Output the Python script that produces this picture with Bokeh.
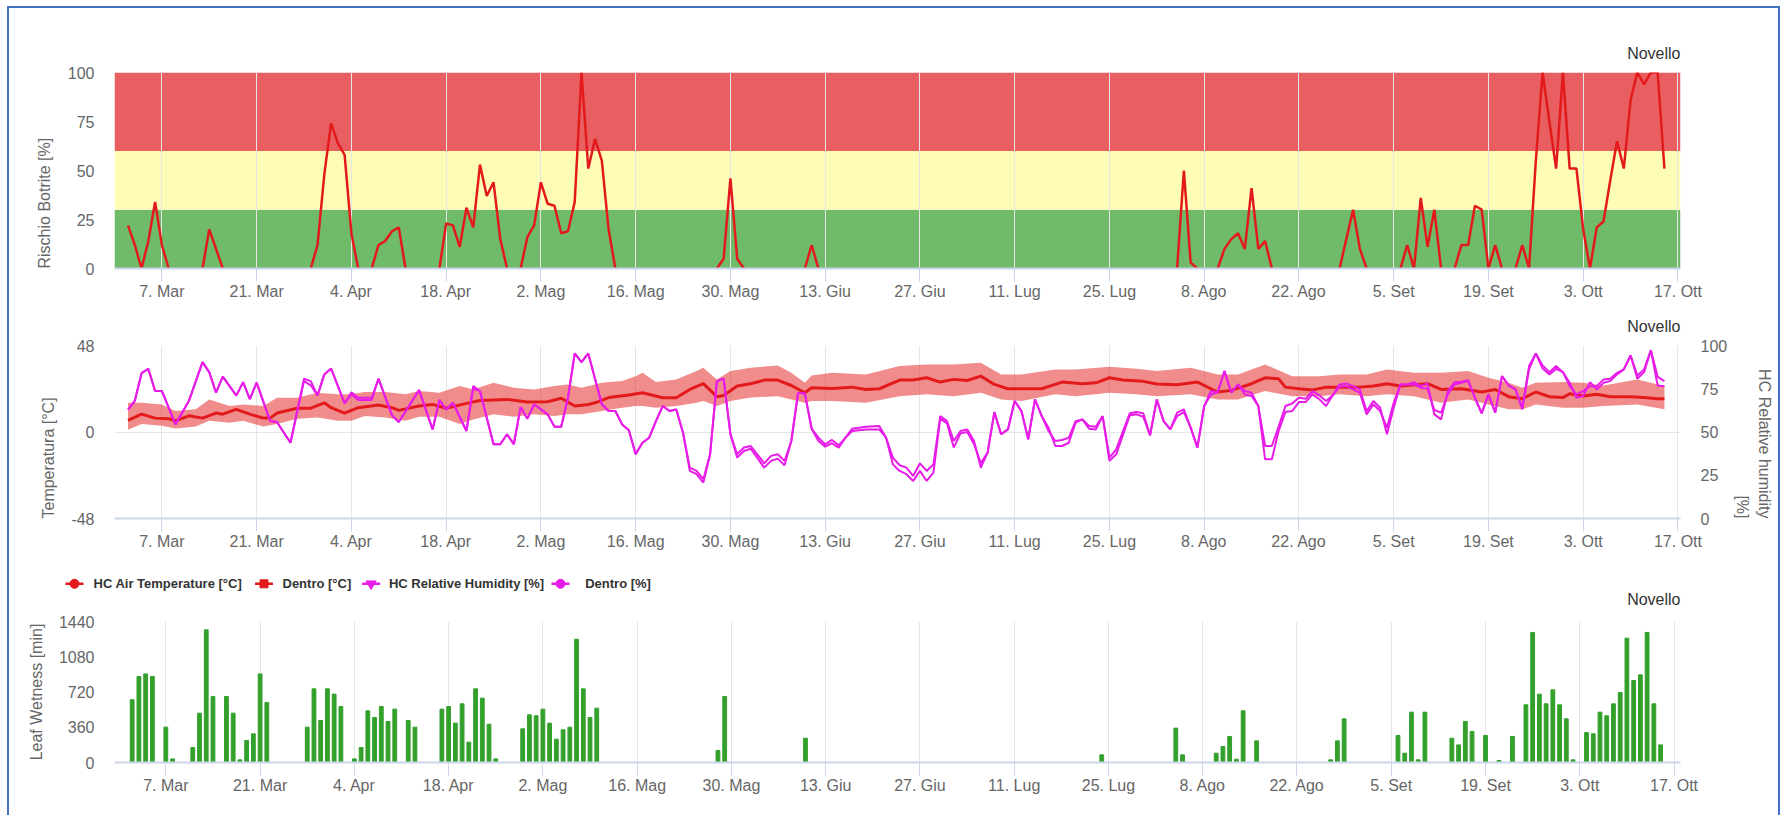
import numpy as np
import pandas as pd
from bokeh.plotting import figure
from bokeh.models import Range1d, LinearAxis, FixedTicker, BoxAnnotation, Title
from bokeh.core.properties import value
from bokeh.layouts import column
from bokeh.embed import file_html
from bokeh.resources import INLINE

YEAR = "2022"

# ---------------- shared x axis ----------------
tick_dates = ["03-07", "03-21", "04-04", "04-18", "05-02", "05-16", "05-30", "06-13",
              "06-27", "07-11", "07-25", "08-08", "08-22", "09-05", "09-19", "10-03", "10-17"]
tick_labels = ["7. Mar", "21. Mar", "4. Apr", "18. Apr", "2. Mag", "16. Mag", "30. Mag", "13. Giu",
               "27. Giu", "11. Lug", "25. Lug", "8. Ago", "22. Ago", "5. Set", "19. Set", "3. Ott", "17. Ott"]

# ---------------- chart 1: Rischio Botrite (daily, None = no risk) ----------------
risk_start = "2022-03-02"
risk_values = [
    22, 12, 0, 14, 34, 12, 0,
    None, None, None, None,
    0, 20, 10, 0,
    None, None, None, None, None, None, None, None, None, None, None, None,
    0, 12, 48, 74, 64, 58, 18, 0,
    None,
    0, 12, 14, 19, 21, 0,
    None, None, None, None,
    0, 23, 22, 11, 31, 21, 53, 37, 44, 15, 0,
    None,
    0, 16, 22, 44, 33, 32, 18, 19, 34, 100, 51, 66, 55, 20, 0,
    None, None, None, None, None, None, None, None, None, None, None, None, None, None,
    0, 5, 46, 5, 0,
    None, None, None, None, None, None, None, None,
    0, 12, 0,
    None, None, None, None, None, None, None, None, None, None, None, None, None,
    None, None, None, None, None, None, None, None, None, None, None, None, None,
    None, None, None, None, None, None, None, None, None, None, None, None, None,
    None, None, None, None, None, None, None, None, None, None, None, None, None,
    0, 50, 3, 0,
    None, None,
    0, 10, 15, 18, 10, 41, 10, 14, 0,
    None, None, None, None, None, None, None, None, None,
    0, 15, 30, 10, 0,
    None, None, None, None,
    0, 12, 0, 36, 11, 30, 0,
    None,
    0, 12, 12, 32, 30, 0, 12, 0,
    None,
    0, 12, 0, 55, 100, 75, 51, 100, 51, 51, 20, 0, 21, 24, 45, 65, 51, 86, 100, 94, 100, 100, 51,
]
risk_bands_low = [0, 30, 60]
risk_bands_high = [30, 60, 100]

# ---------------- chart 2: temperature / humidity ----------------
temp_dates = ["03-02", "03-04", "03-06", "03-08", "03-09", "03-11", "03-13", "03-15", "03-16", "03-18",
              "03-20", "03-22", "03-23", "03-24", "03-27", "03-29", "03-31", "04-01", "04-03", "04-05",
              "04-08", "04-10", "04-11", "04-14", "04-16", "04-18", "04-21", "04-23", "04-27", "04-30",
              "05-03", "05-05", "05-07", "05-09", "05-10", "05-12", "05-15", "05-17", "05-20", "05-22",
              "05-24", "05-26", "05-28", "05-29", "05-31", "06-02", "06-04", "06-06", "06-08", "06-10",
              "06-11", "06-14", "06-17", "06-19", "06-21", "06-24", "06-26", "06-28", "06-30", "07-02",
              "07-04", "07-06", "07-08", "07-10", "07-12", "07-15", "07-18", "07-21", "07-23", "07-25",
              "07-27", "07-30", "08-01", "08-04", "08-07", "08-09", "08-10", "08-12", "08-15", "08-17",
              "08-19", "08-20", "08-22", "08-24", "08-26", "08-29", "08-31", "09-02", "09-04", "09-06",
              "09-10", "09-12", "09-15", "09-18", "09-20", "09-22", "09-24", "09-26", "09-28", "09-30",
              "10-01", "10-03", "10-05", "10-07", "10-10", "10-12", "10-14", "10-15"]
temp_values = [6.5, 9.9, 7.7, 7.4, 6.2, 9.0, 7.7, 10.5, 9.9, 12.6,
               9.9, 7.7, 7.7, 10.5, 13.2, 13.2, 16.2, 13.5, 10.5, 13.5,
               15.0, 13.5, 12.0, 14.4, 15.3, 13.2, 15.9, 17.5, 18.1, 16.6,
               16.8, 18.7, 14.4, 15.3, 16.2, 19.1, 20.5, 21.8, 19.0, 19.0,
               23.6, 26.8, 19.6, 20.3, 25.5, 26.8, 28.8, 28.8, 25.8, 21.8,
               24.6, 24.2, 24.9, 23.6, 24.0, 28.8, 28.8, 30.1, 27.7, 29.2,
               28.6, 31.0, 26.4, 24.0, 24.0, 24.0, 27.7, 26.8, 27.3, 30.1,
               28.8, 28.1, 26.6, 26.2, 27.7, 24.0, 22.2, 23.1, 26.8, 30.1,
               29.5, 24.9, 24.0, 23.3, 24.9, 24.9, 24.9, 25.5, 26.8, 25.5,
               26.8, 23.6, 24.0, 22.2, 23.6, 19.6, 18.5, 22.2, 19.6, 19.1,
               21.2, 20.0, 20.9, 19.6, 19.6, 19.1, 18.5, 18.5]

band_dates = ["03-02", "03-04", "03-07", "03-09", "03-12", "03-14", "03-17", "03-19", "03-22", "03-24",
              "03-27", "03-30", "04-02", "04-04", "04-06", "04-09", "04-12", "04-14", "04-17", "04-20",
              "04-22", "04-25", "04-28", "05-01", "05-04", "05-06", "05-08", "05-11", "05-14", "05-16",
              "05-17", "05-19", "05-22", "05-25", "05-26", "05-28", "05-30", "06-02", "06-06", "06-08",
              "06-10", "06-11", "06-14", "06-19", "06-24", "06-28", "07-02", "07-06", "07-09", "07-12",
              "07-17", "07-20", "07-25", "07-29", "08-01", "08-06", "08-10", "08-13", "08-17", "08-21",
              "08-25", "08-28", "09-01", "09-04", "09-08", "09-12", "09-16", "09-19", "09-22", "09-24",
              "09-26", "09-30", "10-03", "10-06", "10-11", "10-15"]
band_low = [1.2, 4.4, 3.4, 2.0, 3.0, 6.2, 5.2, 6.2, 3.0, 4.4,
            7.4, 8.0, 6.2, 6.2, 8.9, 8.0, 6.2, 8.5, 8.5, 4.4,
            7.0, 9.9, 8.5, 9.9, 8.9, 9.9, 9.9, 11.7, 13.5, 14.4,
            14.4, 13.5, 14.4, 16.2, 17.2, 14.4, 17.2, 19.1, 19.9, 18.1,
            16.2, 17.2, 17.2, 16.2, 19.9, 20.9, 19.9, 21.8, 18.1, 17.2,
            20.9, 19.9, 21.8, 20.9, 19.9, 20.9, 18.1, 18.1, 22.7, 19.9,
            19.9, 20.9, 19.9, 20.9, 19.9, 16.2, 18.1, 15.3, 12.6, 12.6,
            15.3, 13.5, 13.5, 14.4, 15.3, 12.6]
band_high = [16.2, 16.2, 15.3, 11.6, 12.6, 18.1, 14.4, 15.3, 14.4, 19.0,
             19.0, 21.8, 20.9, 20.9, 22.2, 22.2, 20.9, 22.7, 21.8, 25.5,
             23.6, 27.3, 24.6, 23.6, 25.5, 26.4, 24.6, 27.3, 28.3, 31.0,
             32.9, 27.7, 29.2, 33.8, 35.7, 29.2, 33.8, 35.6, 36.9, 32.9,
             27.3, 31.4, 32.9, 31.9, 36.6, 37.5, 37.5, 38.4, 31.9, 31.9,
             34.7, 34.7, 36.2, 35.1, 33.8, 35.6, 31.9, 31.9, 37.5, 31.0,
             31.0, 31.9, 31.9, 34.7, 32.9, 32.9, 33.8, 30.1, 27.3, 24.6,
             27.3, 27.7, 27.3, 25.8, 29.2, 25.5]

hum_dates = ["03-02", "03-03", "03-04", "03-05", "03-06", "03-07", "03-09", "03-11", "03-13", "03-14",
             "03-15", "03-16", "03-18", "03-19", "03-20", "03-21", "03-23", "03-24", "03-26", "03-28",
             "03-29", "03-30", "03-31", "04-01", "04-03", "04-04", "04-05", "04-07", "04-08", "04-10",
             "04-11", "04-14", "04-16", "04-17", "04-18", "04-19", "04-21", "04-22", "04-23", "04-25",
             "04-26", "04-27", "04-28", "04-29", "04-30", "05-01", "05-03", "05-04", "05-05", "05-06",
             "05-07", "05-08", "05-09", "05-11", "05-12", "05-13", "05-14", "05-15", "05-16", "05-17",
             "05-18", "05-19", "05-20", "05-21", "05-22", "05-23", "05-24", "05-25", "05-26", "05-27",
             "05-28", "05-29", "05-30", "05-31", "06-01", "06-02", "06-04", "06-05", "06-06", "06-07",
             "06-08", "06-09", "06-10", "06-11", "06-12", "06-13", "06-14", "06-15", "06-16", "06-17",
             "06-19", "06-21", "06-22", "06-23", "06-24", "06-25", "06-26", "06-27", "06-28", "06-29",
             "06-30", "07-01", "07-02", "07-03", "07-04", "07-05", "07-06", "07-07", "07-08", "07-09",
             "07-10", "07-11", "07-12", "07-13", "07-14", "07-15", "07-16", "07-17", "07-18", "07-19",
             "07-20", "07-21", "07-22", "07-23", "07-24", "07-25", "07-26", "07-28", "07-29", "07-30",
             "07-31", "08-01", "08-02", "08-03", "08-04", "08-05", "08-06", "08-07", "08-08", "08-09",
             "08-10", "08-11", "08-12", "08-13", "08-14", "08-15", "08-16", "08-17", "08-18", "08-19",
             "08-20", "08-21", "08-22", "08-23", "08-24", "08-25", "08-26", "08-27", "08-28", "08-29",
             "08-30", "08-31", "09-01", "09-02", "09-03", "09-04", "09-05", "09-06", "09-07", "09-08",
             "09-09", "09-10", "09-11", "09-12", "09-13", "09-14", "09-15", "09-16", "09-17", "09-18",
             "09-19", "09-20", "09-21", "09-22", "09-23", "09-24", "09-25", "09-26", "09-27", "09-28",
             "09-29", "09-30", "10-01", "10-02", "10-03", "10-04", "10-05", "10-06", "10-07", "10-08",
             "10-09", "10-10", "10-11", "10-12", "10-13", "10-14", "10-15"]
hum_hc = [63, 68, 84, 86.5, 73.7, 73.7, 54.4, 68, 90.4, 84.6,
          72.7, 82, 71, 78.8, 69, 78.5, 56.3, 55.8, 43.8, 80.8,
          79.4, 71.2, 83.3, 86.7, 66.5, 73, 69.8, 69.8, 80.8, 59.6,
          55.8, 74.2, 51.5, 68.5, 63, 66.9, 50.6, 76.5, 73.7, 42.9,
          42.9, 48.7, 42.9, 64.4, 57.7, 66, 60.2, 53.1, 53.1, 69.8,
          95.4, 90.4, 95.4, 66, 62.1, 62.1, 54.4, 51, 37.1, 43.8,
          46.7, 56.3, 65, 62.1, 63, 49.6, 29.4, 27.5, 22.7, 37.1,
          79.4, 80.8, 48.7, 37.1, 41, 41.9, 31.9, 36.2, 37.1, 33.3,
          44.8, 72.7, 72.3, 51.9, 46.7, 42.9, 45.4, 42.3, 46.7, 51.9,
          53.1, 53.5, 46.7, 35.2, 30.8, 29.4, 24.6, 31.9, 27.5, 31.3,
          59.2, 56.3, 44.8, 50.6, 51.5, 44.8, 29.4, 38.1, 61.5, 48.7,
          51.5, 67.9, 62.1, 45.8, 68.8, 59.2, 52.5, 41.9, 41.9, 43.8,
          55.4, 57.3, 53.5, 53.1, 59.2, 33.3, 37.1, 59.6, 60.2, 58.8,
          48.1, 68.8, 56.3, 51.5, 61.2, 63.1, 52.5, 41, 65, 71.7,
          73, 85.2, 72.7, 77.5, 73.7, 72.7, 65, 41.9, 41.9, 53.1,
          65, 66.5, 69.8, 69.2, 73.7, 71.2, 67.9, 71.2, 77.5, 78.1,
          76.5, 74.6, 62.1, 67.9, 64, 48.7, 64, 77.5, 77.5, 78.8,
          76.5, 78.1, 60.2, 57.3, 73.7, 78.8, 79, 80, 69.8, 60.8,
          71.7, 61.2, 82.3, 76.9, 74.6, 64, 88.1, 95.4, 88.5, 84.6,
          88.1, 84.6, 78.5, 69.8, 70.8, 78.8, 74.6, 78.5, 79.4, 83.3,
          86.2, 94.2, 80.8, 84.6, 97.3, 81.9, 79.4]
hum_dentro = [63, 68, 84, 86.5, 73.7, 73.7, 54.4, 68, 90.4, 84.6,
              72.7, 82, 71, 78.8, 69, 78.5, 56.3, 55.8, 43.8, 79.4,
              77, 71.2, 83.3, 86.7, 66.5, 71.7, 68.5, 68.5, 80.8, 59.6,
              55.8, 74.2, 51.5, 68.5, 63, 66.9, 50.6, 75, 73.7, 42.9,
              42.9, 48.7, 42.9, 64.4, 57.7, 66, 60.2, 53.1, 53.1, 69.8,
              95.4, 90.4, 95.4, 66, 62.1, 62.1, 54.4, 51, 37.1, 43.8,
              46.7, 56.3, 65, 62.1, 63, 49.6, 27.5, 25.6, 20.8, 37.1,
              79.4, 80.8, 48.7, 35.2, 39, 40.4, 29.4, 33.3, 34.6, 30.8,
              44.8, 72.7, 72.3, 51.9, 44.8, 41.5, 43.5, 41, 46.7, 50.6,
              51.5, 51.5, 46.7, 31.3, 27.5, 25.6, 21.7, 27.5, 21.7, 26.5,
              57.7, 55, 41, 49.2, 50, 42.9, 32, 38.1, 61.5, 48.7,
              51.5, 67.9, 62.1, 45.8, 68.8, 59.2, 50.6, 44.8, 45.4, 46.7,
              56.3, 57.3, 51.9, 51.5, 59.2, 35.2, 40, 60.8, 61.5, 60.8,
              48.1, 68.8, 56.3, 51.5, 59.2, 61.5, 52.5, 41, 65, 73.7,
              73, 85.2, 72.7, 77.5, 71.7, 70.8, 65, 34.2, 34.2, 50.6,
              61.5, 62.1, 67.3, 67.3, 71.7, 69, 65, 71.2, 76.2, 76.5,
              74.6, 72.7, 60.2, 65.9, 62.1, 52.5, 66.9, 77.5, 77.5, 77.5,
              75.6, 75, 62.7, 61.2, 71.7, 77.5, 78.5, 79.4, 69.8, 60.8,
              71.7, 61.2, 82.3, 76.9, 74.6, 63.1, 86.2, 95.4, 86.7, 83.3,
              86.5, 84.6, 76.5, 71.7, 73.7, 76.5, 76.5, 80.4, 80.8, 84.2,
              86.2, 94.2, 82.7, 86.2, 97.3, 76.9, 76.5]

legend_labels = ["HC Air Temperature [°C]", "Dentro [°C]", "HC Relative Humidity [%]", "Dentro [%]"]

# ---------------- chart 3: leaf wetness ----------------
wet_dates = ["03-02", "03-03", "03-04", "03-05", "03-07", "03-08", "03-11", "03-12", "03-13", "03-14",
             "03-16", "03-17", "03-18", "03-19", "03-20", "03-21", "03-22", "03-28", "03-29", "03-30",
             "03-31", "04-01", "04-02", "04-04", "04-05", "04-06", "04-07", "04-08", "04-09", "04-10",
             "04-12", "04-13", "04-17", "04-18", "04-19", "04-20", "04-21", "04-22", "04-23", "04-24",
             "04-25", "04-29", "04-30", "05-01", "05-02", "05-03", "05-04", "05-05", "05-06", "05-07",
             "05-08", "05-09", "05-10", "05-28", "05-29", "06-10", "07-24", "08-04", "08-05", "08-10",
             "08-11", "08-12", "08-13", "08-14", "08-16", "08-27", "08-28", "08-29", "09-06", "09-07",
             "09-08", "09-09", "09-10", "09-14", "09-15", "09-16", "09-17", "09-19", "09-21", "09-23",
             "09-25", "09-26", "09-27", "09-28", "09-29", "09-30", "10-01", "10-02", "10-04", "10-05",
             "10-06", "10-07", "10-08", "10-09", "10-10", "10-11", "10-12", "10-13", "10-14", "10-15"]
wet_minutes = [641, 878, 905, 878, 361, 37, 153, 504, 1355, 674,
               674, 504, 27, 225, 293, 905, 613, 361, 752, 429,
               752, 698, 572, 37, 153, 528, 460, 572, 419, 545,
               429, 361, 545, 572, 402, 599, 208, 752, 657, 391,
               37, 344, 487, 477, 545, 402, 238, 334, 361, 1259,
               752, 460, 555, 123, 674, 248, 78, 351, 78, 95,
               163, 266, 34, 528, 221, 27, 221, 446, 276, 95,
               514, 27, 514, 248, 180, 419, 317, 276, 20, 266,
               589, 1328, 698, 599, 742, 589, 446, 27, 306, 293,
               514, 477, 599, 715, 1270, 837, 895, 1328, 599, 180]

# ---------------- styling ----------------
FONT = "Liberation Sans"
LBL = "#666666"
AXIS = "#ccd6eb"
GRID = "#e6e6e6"
RED = "#e31a1c"
MAG = "#e81ce8"
GREEN = "#33a02c"
BAND_COLORS = ["#70bb6a", "#fefdb7", "#e95e60"]
W = 1769          # figure width (page x 9 .. 1778)
FRAME_L, FRAME_R = 105, 98


def dts(mmdd):
    return pd.to_datetime([f"{YEAR}-{d}" for d in mmdd])


tick_ms = [float(t.value // 10**6) for t in dts(tick_dates)]
overrides = {m: l for m, l in zip(tick_ms, tick_labels)}


def side_title(p, text, side, align, standoff):
    """Axis title drawn as a side-panel Title, aligned to the low end of the axis."""
    p.add_layout(Title(text=text, align=align, text_font=FONT, text_font_size="16px",
                       text_font_style="normal", text_color=LBL, standoff=standoff), side)


def make_fig(height, top, bottom, x0, x1, y0, y1, yticks, title=True):
    p = figure(width=W, height=height, x_axis_type="datetime",
               x_range=Range1d(pd.Timestamp(x0), pd.Timestamp(x1)),
               y_range=Range1d(y0, y1), output_backend="svg", toolbar_location=None,
               min_border_left=FRAME_L, min_border_right=FRAME_R, min_border_top=top,
               min_border_bottom=bottom, title=("Novello" if title else None))
    p.outline_line_color = None
    if title:
        p.title.align = "right"
        p.title.text_font = FONT
        p.title.text_font_size = "16px"
        p.title.text_font_style = "normal"
        p.title.text_color = "#333333"
        p.title.standoff = 21
    xt = FixedTicker(ticks=tick_ms, minor_ticks=[])
    p.xaxis.ticker = xt
    p.xgrid.ticker = xt
    p.xaxis.major_label_overrides = overrides
    p.xaxis.axis_line_color = AXIS
    p.xaxis.axis_line_width = 2
    p.xaxis.major_tick_line_color = AXIS
    p.xaxis.major_tick_out = 13
    p.xaxis.major_tick_in = 0
    p.xaxis.minor_tick_line_color = None
    p.xaxis.major_label_standoff = 1
    yt = FixedTicker(ticks=yticks, minor_ticks=[])
    p.yaxis.ticker = yt
    p.ygrid.ticker = yt
    p.yaxis.axis_line_color = None
    p.yaxis.major_tick_line_color = None
    p.yaxis.major_tick_out = 0
    p.yaxis.major_tick_in = 0
    p.yaxis.minor_tick_line_color = None
    p.yaxis.major_label_standoff = 20
    for ax in (p.xaxis, p.yaxis):
        ax.major_label_text_font = FONT
        ax.major_label_text_font_size = "16px"
        ax.major_label_text_color = LBL
    p.xgrid.grid_line_color = GRID
    p.ygrid.grid_line_color = None
    return p


# ---------------- figure 1: Rischio Botrite ----------------
p1 = make_fig(295, 64, 35, "2022-02-28 00:00", "2022-10-17 09:00", 0, 100, [0, 25, 50, 75, 100])
for lo, hi, c in zip(risk_bands_low, risk_bands_high, BAND_COLORS):
    p1.add_layout(BoxAnnotation(bottom=lo, top=hi, fill_color=c, fill_alpha=1, line_alpha=0,
                                level="image"))
risk_x = pd.date_range(risk_start, periods=len(risk_values), freq="D")
p1.line(risk_x, np.array(risk_values, dtype=float), line_color=RED, line_width=2.5)
side_title(p1, "Rischio Botrite [%]", "left", "left", 23)

# ---------------- figure 2: temperature / humidity ----------------
p2 = make_fig(255, 42, 40, "2022-02-28 00:00", "2022-10-17 09:00", -48, 48, [-48, 0, 48])
p2.ygrid.grid_line_color = GRID
p2.yaxis.major_label_overrides = {-48: "-48"}
p2.extra_y_ranges = {"rh": Range1d(0, 100)}
rax = LinearAxis(y_range_name="rh", ticker=FixedTicker(ticks=[0, 25, 50, 75, 100], minor_ticks=[]))
rax.axis_line_color = None
rax.major_tick_line_color = None
rax.major_tick_out = 0
rax.major_tick_in = 0
rax.minor_tick_line_color = None
rax.major_label_standoff = 20
rax.major_label_text_font = FONT
rax.major_label_text_font_size = "16px"
rax.major_label_text_color = LBL
p2.add_layout(rax, "right")
side_title(p2, "[%]", "right", "right", 6)
side_title(p2, "HC Relative humidity", "right", "right", 0)
side_title(p2, "Temperatura [°C]", "left", "left", 24)
p2.varea(x=dts(band_dates), y1=band_low, y2=band_high, fill_color=RED, fill_alpha=0.5)
p2.line(dts(temp_dates), temp_values, line_color=RED, line_width=3)
p2.line(dts(hum_dates), hum_dentro, y_range_name="rh", line_color=MAG, line_width=2)
p2.line(dts(hum_dates), hum_hc, y_range_name="rh", line_color=MAG, line_width=2)

# ---------------- legend strip (+ title of chart 3) ----------------
# 1 unit = 1 px; page y = 608 - y, page x = 9 + x
pl = figure(width=W, height=50, x_range=Range1d(0, W), y_range=Range1d(0, 50),
            output_backend="svg", toolbar_location=None, title=None,
            x_axis_location=None, y_axis_location=None, min_border=0)
if hasattr(pl, "frame_align"):
    pl.frame_align = False
pl.outline_line_color = None
pl.xgrid.visible = False
pl.ygrid.visible = False
leg_sym_x = [56, 245.5, 352.6, 542]
leg_txt_x = [84, 273, 379.4, 575.7]
leg_y = 24.7
leg_colors = [RED, RED, MAG, MAG]
leg_markers = ["circle", "square", "inverted_triangle", "circle"]
leg_sizes = [9, 8, 10, 9]
pl.segment(x0=leg_sym_x, y0=[leg_y] * 4, x1=[x + 18 for x in leg_sym_x], y1=[leg_y] * 4,
           line_color=leg_colors, line_width=2.5)
pl.scatter(x=[x + 9 for x in leg_sym_x], y=[leg_y] * 4, marker=leg_markers, size=leg_sizes,
           fill_color=leg_colors, line_color=leg_colors)
pl.text(x=leg_txt_x, y=[leg_y] * 4, text=legend_labels, text_font=value(FONT),
        text_font_size="13px", text_font_style="bold", text_color="#333333",
        text_baseline="middle", text_align="left")
pl.text(x=[1671], y=[8.7], text=["Novello"], text_font=value(FONT), text_font_size="16px",
        text_color="#333333", text_baseline="middle", text_align="right")

# ---------------- figure 3: leaf wetness ----------------
p3 = make_fig(207, 13, 53, "2022-02-27 09:00", "2022-10-17 23:00", 0, 1440,
              [0, 360, 720, 1080, 1440], title=False)
p3.vbar(x=dts(wet_dates), top=wet_minutes, width=13.5 * 3600 * 1000,
        fill_color=GREEN, line_color=GREEN)
ax3 = p3.yaxis[0]
ax3.axis_label = "Leaf Wetness [min]"
ax3.axis_label_text_font = FONT
ax3.axis_label_text_font_size = "16px"
ax3.axis_label_text_font_style = "normal"
ax3.axis_label_text_color = LBL
ax3.axis_label_standoff = 11

layout = column(p1, p2, pl, p3, styles={"margin-top": "6px", "margin-left": "7px",
                                        "border-top": "2px solid #4472c4",
                                        "border-left": "2px solid #4472c4",
                                        "border-right": "2px solid #4472c4"})

open("out.html", "w").write(file_html(layout, INLINE))
